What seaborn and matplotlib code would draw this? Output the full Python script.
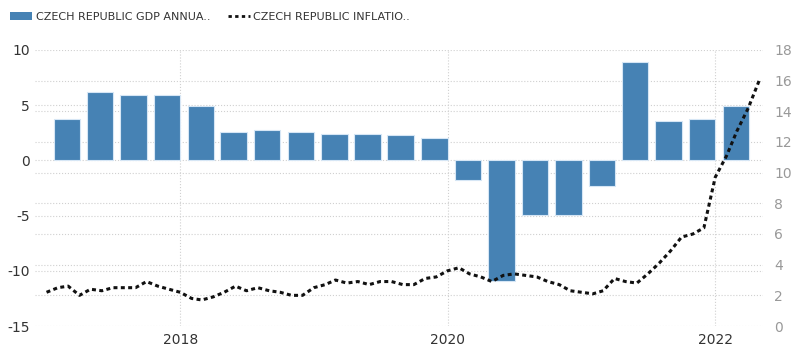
import matplotlib
matplotlib.use('Agg')
import matplotlib.pyplot as plt
import matplotlib.dates as mdates
from matplotlib.ticker import FixedLocator
from matplotlib.patches import Patch
from matplotlib.lines import Line2D
import seaborn as sns
import pandas as pd

# quarterly GDP growth (left axis)
quarters = ['2017Q1', '2017Q2', '2017Q3', '2017Q4',
            '2018Q1', '2018Q2', '2018Q3', '2018Q4',
            '2019Q1', '2019Q2', '2019Q3', '2019Q4',
            '2020Q1', '2020Q2', '2020Q3', '2020Q4',
            '2021Q1', '2021Q2', '2021Q3', '2021Q4',
            '2022Q1']
gdp_growth = [3.7, 6.2, 5.9, 5.9,
              4.9, 2.6, 2.75, 2.6,
              2.4, 2.4, 2.3, 2.0,
              -1.8, -10.9, -4.95, -4.95,
              -2.3, 8.9, 3.6, 3.7,
              4.9]

# monthly inflation, Jan 2017 .. May 2022 (right axis)
inflation_start = '2017-01'
inflation = [2.2, 2.5, 2.6, 2.0, 2.4, 2.3, 2.5, 2.5, 2.5, 2.9, 2.6, 2.4,
             2.2, 1.8, 1.7, 1.9, 2.2, 2.6, 2.3, 2.5, 2.3, 2.2, 2.0, 2.0,
             2.5, 2.7, 3.0, 2.8, 2.9, 2.7, 2.9, 2.9, 2.7, 2.7, 3.1, 3.2,
             3.6, 3.8, 3.4, 3.2, 2.9, 3.3, 3.4, 3.3, 3.2, 2.9, 2.7, 2.3,
             2.2, 2.1, 2.3, 3.1, 2.9, 2.8, 3.4, 4.1, 4.9, 5.8, 6.0, 6.4,
             9.7, 11.1, 12.7, 14.2, 16.0]

left_ticks = [-15, -10, -5, 0, 5, 10]
right_ticks = [0, 2, 4, 6, 8, 10, 12, 14, 16, 18]
gdp_label = 'CZECH REPUBLIC GDP ANNUA..'
cpi_label = 'CZECH REPUBLIC INFLATIO..'

sns.set_theme(style='white')
plt.rcParams['font.family'] = ['DejaVu Sans']
plt.rcParams['axes.unicode_minus'] = False

q_dates = pd.PeriodIndex(quarters, freq='Q').start_time + pd.Timedelta(days=56)
m_dates = pd.period_range(inflation_start, periods=len(inflation), freq='M').start_time
gdp_df = pd.DataFrame({'x': mdates.date2num(q_dates), 'gdp': gdp_growth})
cpi_df = pd.DataFrame({'x': mdates.date2num(m_dates), 'cpi': inflation})

fig = plt.figure(figsize=(8, 3.54), dpi=100)
ax = fig.add_axes([0.044, 0.079, 0.91, 0.78])

sns.barplot(data=gdp_df, x='x', y='gdp', native_scale=True, width=0.8,
            color='#4682b4', saturation=1, edgecolor='#d6e6f5', linewidth=0.8,
            ax=ax, zorder=3)

ax2 = ax.twinx()
sns.lineplot(data=cpi_df, x='x', y='cpi', ax=ax2, color='#111111',
             linewidth=2.2, linestyle=(0, (1.3, 1.1)))

ax.set_xlim(mdates.datestr2num('2016-12-01'), mdates.datestr2num('2022-05-12'))
ax.set_ylim(-15, 10)
ax2.set_ylim(0, 18)
ax.set_yticks(left_ticks)
ax2.set_yticks(right_ticks)
# right-axis grid drawn on the left axis so it stays behind the bars
ax.yaxis.set_minor_locator(FixedLocator([-15 + v * 25 / 18 for v in right_ticks]))
ax.xaxis.set_major_locator(mdates.YearLocator(2))
ax.xaxis.set_major_formatter(mdates.DateFormatter('%Y'))

ax.grid(True, which='both', axis='y', color='#d0d0d0', linestyle=':', linewidth=0.8)
ax.grid(True, which='major', axis='x', color='#d0d0d0', linestyle=':', linewidth=0.8)
ax.set_axisbelow(True)
ax2.grid(False)

for a in (ax, ax2):
    for s in a.spines.values():
        s.set_visible(False)
    a.set_xlabel('')
    a.set_ylabel('')

ax.tick_params(axis='y', which='both', length=0, pad=4, labelsize=10, colors='#333333')
ax.tick_params(axis='x', length=0, pad=5, labelsize=10, colors='#333333')
ax2.tick_params(axis='y', length=0, pad=8, labelsize=10, colors='#999999')

handles = [Patch(facecolor='#4682b4', edgecolor='none', label=gdp_label),
           Line2D([0], [0], color='#111111', linewidth=2, linestyle=(0, (1.2, 1.2)), label=cpi_label)]
fig.legend(handles=handles, loc='upper left', bbox_to_anchor=(0.0, 0.995), ncol=2,
           frameon=False, fontsize=8, handlelength=2.0, handleheight=0.8,
           handletextpad=0.3, columnspacing=1.6, labelcolor='#333333')

fig.savefig('out.png', dpi=100)
